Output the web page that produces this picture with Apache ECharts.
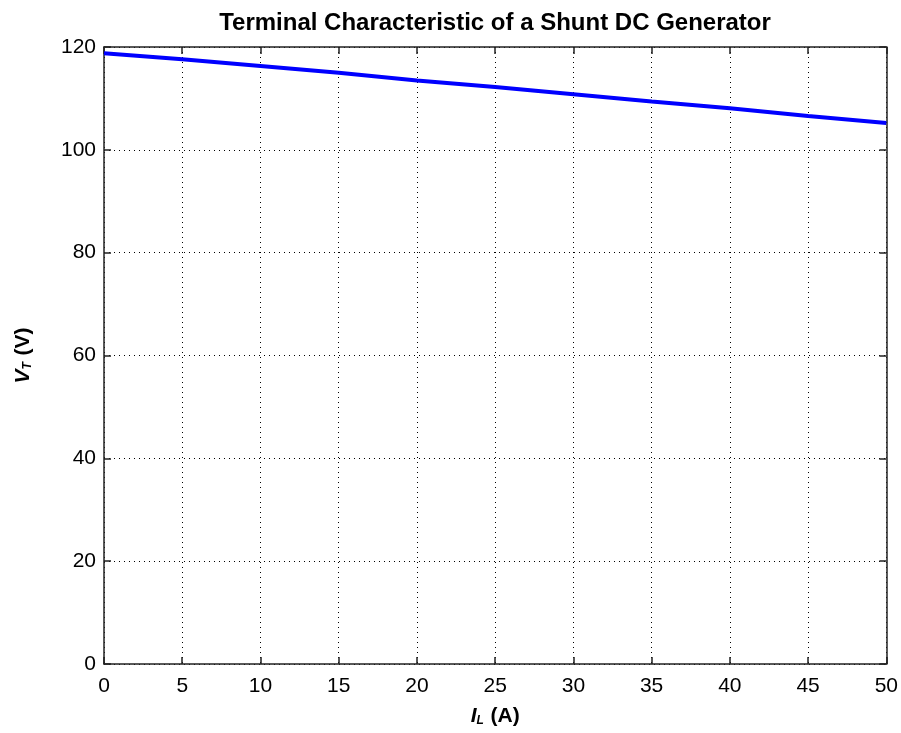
<!DOCTYPE html>
<html><head><meta charset="utf-8">
<script src="https://cdn.jsdelivr.net/npm/echarts@6/dist/echarts.min.js"></script>
<style>html,body{margin:0;padding:0;background:#fff}#c{width:901px;height:733px}</style>
</head><body><div id="c"></div>
<script>
const loadCurrent = [0, 5, 10, 15, 20, 25, 30, 35, 40, 45, 50];
const terminalVoltage = [118.8, 117.6, 116.3, 115.0, 113.5, 112.2, 110.8, 109.4, 108.1, 106.6, 105.2];
const titleText = 'Terminal Characteristic of a Shunt DC Generator';

const chart = echarts.init(document.getElementById('c'));
const font = 'Liberation Sans, Arial, sans-serif';
const gridLine = {show: true, lineStyle: {color: '#000', type: [1, 4], width: 1}};
const axisBase = {
  axisLine: {show: true, onZero: false, lineStyle: {color: '#222', width: 1.5}},
  axisTick: {show: true, inside: true, length: 7, lineStyle: {color: '#222', width: 1.5}},
};
const nameRich = {
  i: {fontFamily: font, fontSize: 21, fontWeight: 'bold', fontStyle: 'italic', color: '#000'},
  s: {fontFamily: font, fontSize: 12, fontWeight: 'bold', fontStyle: 'italic', color: '#000', verticalAlign: 'bottom', padding: [10, 0, 0, 0]},
  b: {fontFamily: font, fontSize: 21, fontWeight: 'bold', color: '#000'}
};
chart.setOption({
  animation: false,
  title: {text: titleText, left: 490, top: 6, textAlign: 'center',
    textStyle: {fontFamily: font, fontSize: 24, fontWeight: 'bold', color: '#000'}},
  grid: {left: 104, right: 13, top: 47, bottom: 69, containLabel: false},
  xAxis: [
    Object.assign({type: 'value', min: 0, max: 50, interval: 5, position: 'bottom',
      splitLine: gridLine,
      axisLabel: {fontFamily: font, fontSize: 21, color: '#000', margin: 12},
      name: '{i|I}{s|L}  {b|(A)}', nameLocation: 'middle', nameGap: 41,
      nameTextStyle: {rich: nameRich}
    }, axisBase),
    Object.assign({type: 'value', min: 0, max: 50, interval: 5, position: 'top',
      splitLine: {show: false}, axisLabel: {show: false}}, axisBase)
  ],
  yAxis: [
    Object.assign({type: 'value', min: 0, max: 120, interval: 20, position: 'left',
      splitLine: gridLine,
      axisLabel: {fontFamily: font, fontSize: 21, color: '#000', margin: 8},
      name: '{i|V}{s|T}  {b|(V)}', nameLocation: 'middle', nameGap: 70, nameRotate: 90,
      nameTextStyle: {rich: nameRich}
    }, axisBase),
    Object.assign({type: 'value', min: 0, max: 120, interval: 20, position: 'right',
      splitLine: {show: false}, axisLabel: {show: false}}, axisBase)
  ],
  series: [{
    type: 'line', xAxisIndex: 0, yAxisIndex: 0,
    data: loadCurrent.map((x, i) => [x, terminalVoltage[i]]),
    showSymbol: false, smooth: false,
    lineStyle: {color: '#0000ff', width: 4}
  }]
});
</script></body></html>
